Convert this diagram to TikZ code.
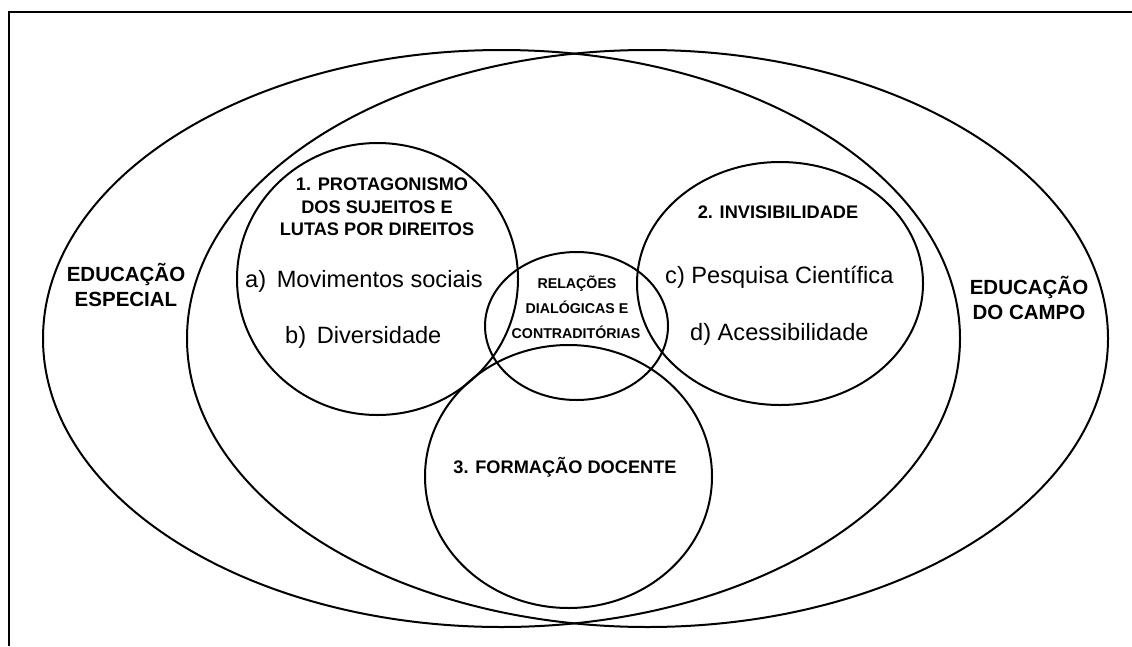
\documentclass[tikz,border=0pt]{standalone}
\usepackage{fontspec}
\setmainfont{Liberation Sans}
\usetikzlibrary{shapes.geometric}
\begin{document}
\begin{tikzpicture}[x=1pt,y=-1pt,
  ring/.style={draw, ellipse, line width=2pt, inner sep=0pt, fill=none},
  biglabel/.style={font=\fontsize{20.5}{24}\selectfont\bfseries, inner sep=0pt, anchor=base},
  title/.style={font=\fontsize{18.2}{22}\selectfont\bfseries, inner sep=0pt, anchor=base},
  small/.style={font=\fontsize{14.2}{17}\selectfont\bfseries, inner sep=0pt, anchor=base},
  item/.style={font=\fontsize{23.6}{28}\selectfont, inner sep=0pt, anchor=base west}]
\useasboundingbox (0,0) rectangle (1132,646);
\fill[white] (0,0) rectangle (1132,646);
% frame (cut at right and bottom)
\coordinate (fbl) at (9,646);
\coordinate (ftl) at (9,12);
\coordinate (ftr) at (1132,12);
\draw[line width=2pt] (fbl) -- (ftl) -- (ftr);
% big ellipses
\node[ring, minimum width=917pt, minimum height=577pt] (esp) at (501.5,338.5) {};
\node[ring, minimum width=921pt, minimum height=577pt] (cam) at (647.5,338.5) {};
% inner circles
\node[ring, minimum width=281pt, minimum height=272pt] (c1) at (377.5,279) {};
\node[ring, minimum width=286pt, minimum height=243pt] (c2) at (780,283.5) {};
\node[ring, minimum width=287pt, minimum height=263pt] (c3) at (568.5,476.5) {};
\node[ring, minimum width=183pt, minimum height=148pt] (c0) at (576.5,326) {};
% labels
\node[biglabel] (le1) at (126,281) {EDUCAÇÃO};
\node[biglabel] (le2) at (126,306) {ESPECIAL};
\node[biglabel] (lc1) at (1029,294) {EDUCAÇÃO};
\node[biglabel] (lc2) at (1029,319) {DO CAMPO};
\node[title] (t11) at (382,190) {1. PROTAGONISMO};
\node[title] (t12) at (377,213) {DOS SUJEITOS E};
\node[title] (t13) at (377,235) {LUTAS POR DIREITOS};
\node[item] (ia) at (245,287) {a)\hspace{0.45em}Movimentos sociais};
\node[item] (ib) at (285,343) {b)\hspace{0.45em}Diversidade};
\node[title] (t2) at (778,218) {2. INVISIBILIDADE};
\node[item] (ic) at (665,283) {c) Pesquisa Científica};
\node[item] (id) at (690,340) {d) Acessibilidade};
\node[small] (r1) at (577,288) {RELAÇÕES};
\node[small] (r2) at (577,313) {DIALÓGICAS E};
\node[small] (r3) at (576,338) {CONTRADITÓRIAS};
\node[title] (t3) at (565,473) {3. FORMAÇÃO DOCENTE};
\end{tikzpicture}
\end{document}
